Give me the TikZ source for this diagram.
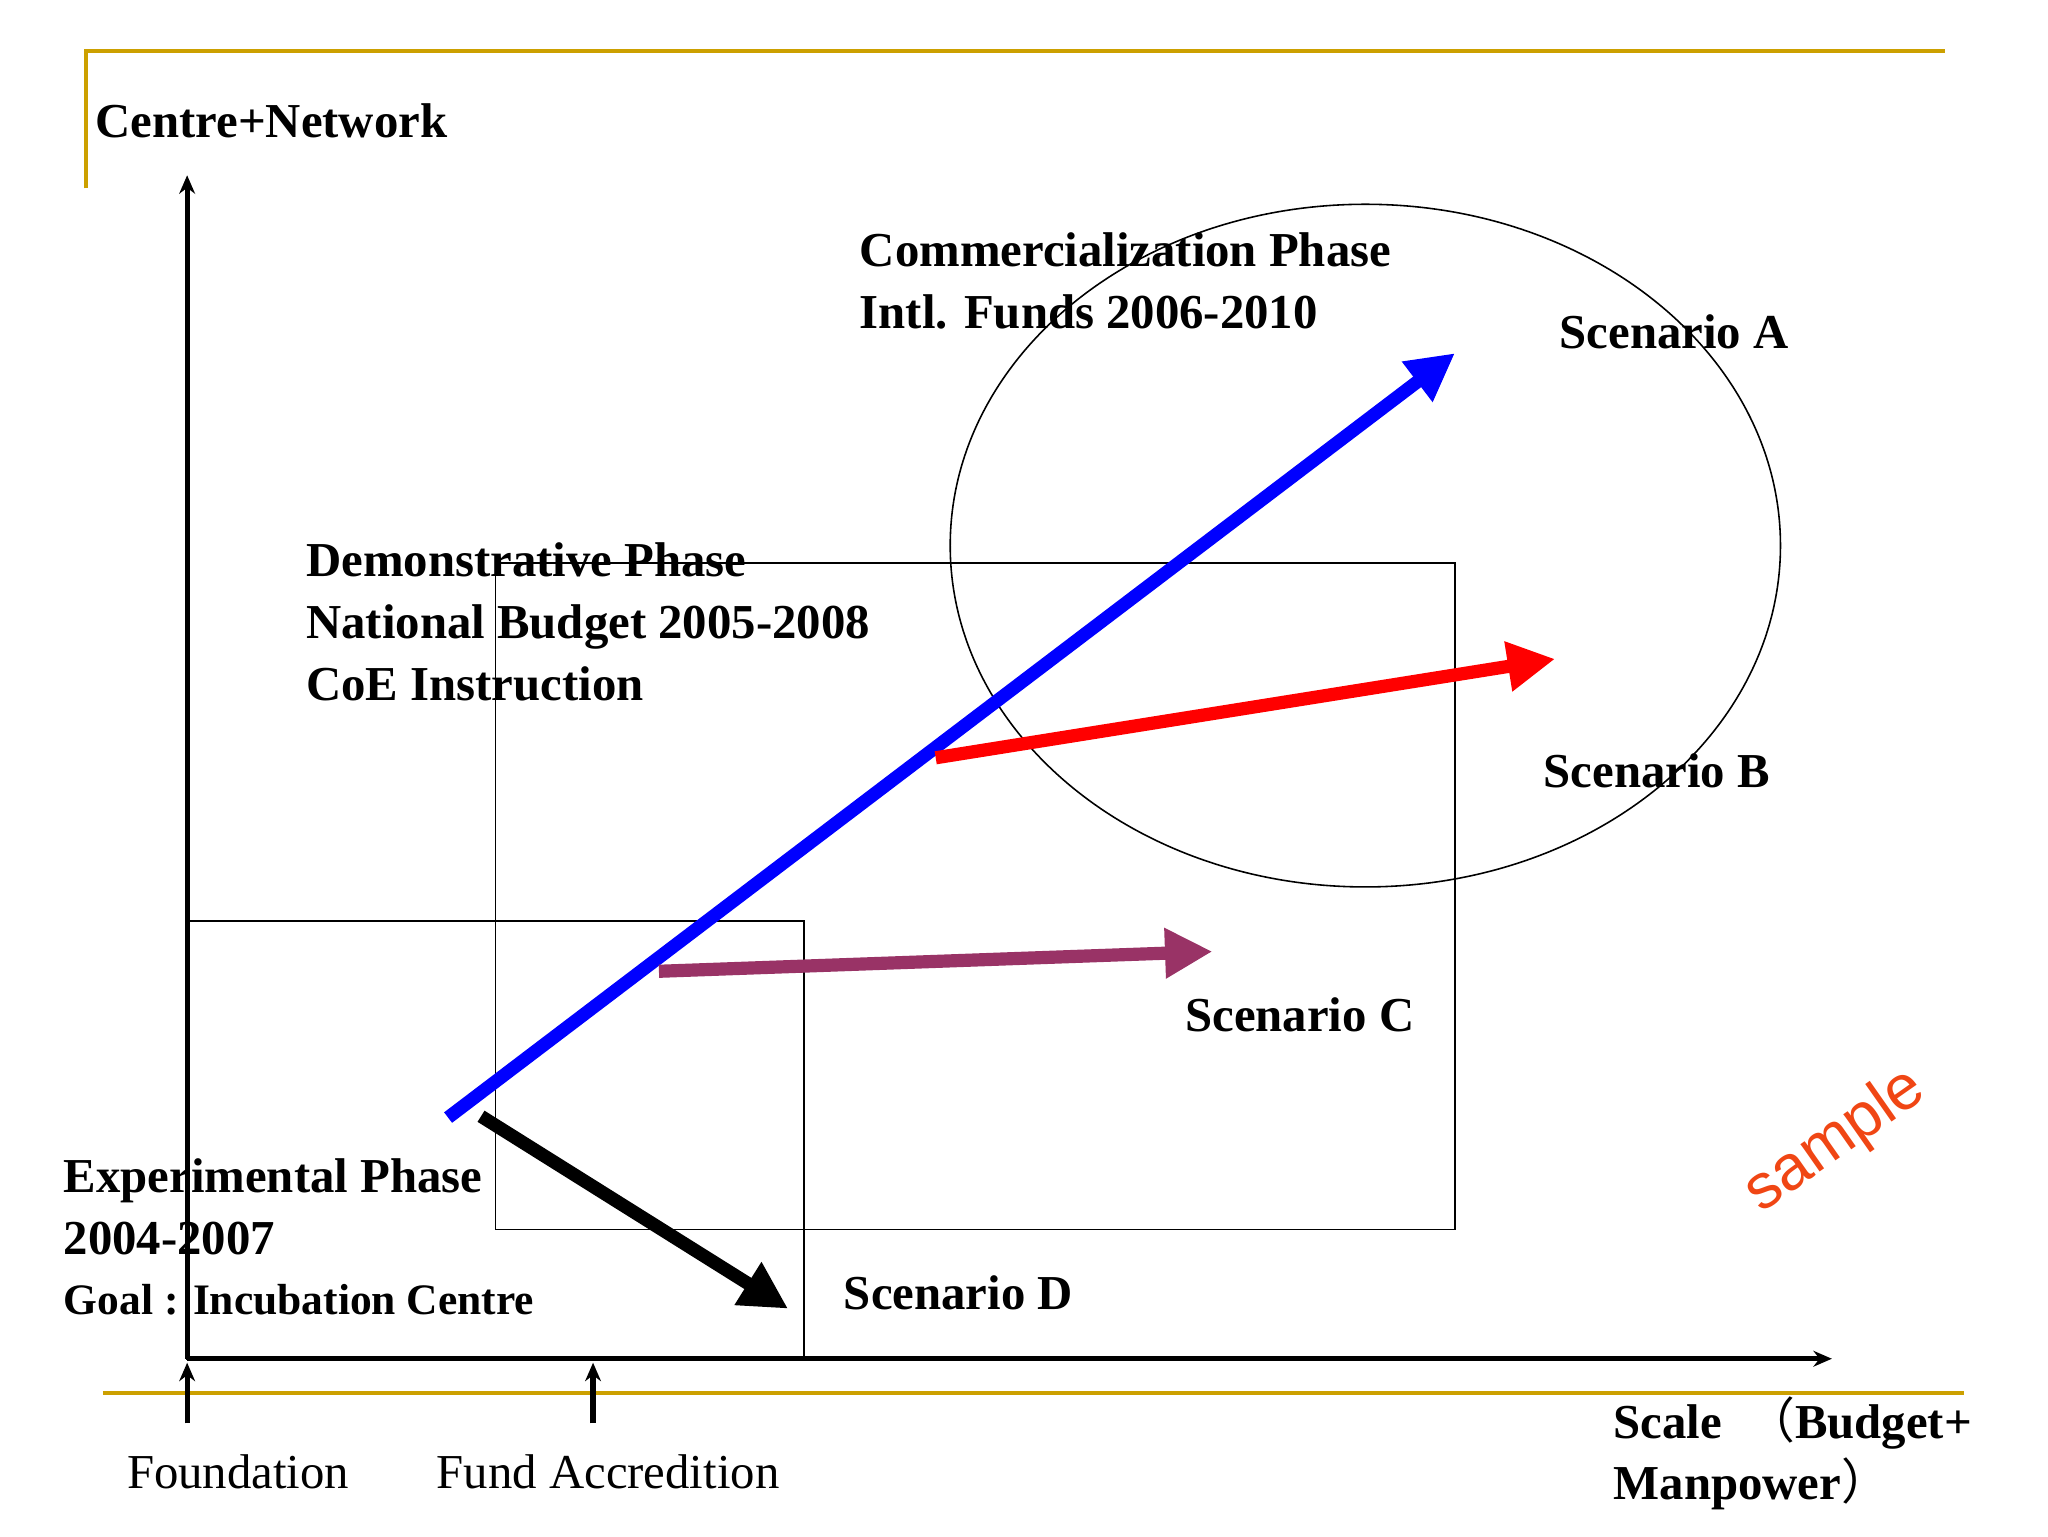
\documentclass[tikz,border=0pt]{standalone}
\usepackage{fontspec}
\setmainfont{Liberation Serif}
\setsansfont{Liberation Sans}
\newfontfamily\cjk{Noto Sans CJK SC}
\usetikzlibrary{arrows.meta}
\begin{document}
\begin{tikzpicture}[x=0.5pt,y=-0.5pt,
  gold/.style={draw={rgb,255:red,204;green,160;blue,0},line width=1.5pt},
  ax/.style={line width=2pt,-{Stealth[length=7pt,width=6pt]}},
  thin/.style={draw,line width=0.6pt},
  big/.style={-{Triangle[length=18pt,width=18pt]},line width=5pt},
  lbl/.style={font=\bfseries\fontsize{18.5}{23.5}\selectfont,anchor=west,align=left,inner sep=0pt},
  nl/.style={font=\fontsize{18.5}{22}\selectfont,anchor=west,inner sep=0pt}]
\useasboundingbox (0,0) rectangle (1554,1166);
\draw[gold] (65,143) -- (65,39) -- (1476,39);
\draw[gold] (78,1057) -- (1490,1057);
\coordinate (o) at (142,1031);
\coordinate (yt) at (142,133);
\coordinate (xt) at (1390,1031);
\draw[ax] (o) -- (yt);
\draw[ax] (o) -- (xt);
\coordinate (f0) at (142,1080); \coordinate (f1) at (142,1034);
\coordinate (a0) at (450,1080); \coordinate (a1) at (450,1034);
\draw[ax] (f0) -- (f1);
\draw[ax] (a0) -- (a1);
\draw[thin] (142,699) rectangle (610,1031);
\draw[thin] (376,427) rectangle (1104,933);
\draw[thin] (1036,414) ellipse [x radius=315, y radius=259];
\coordinate (b0) at (340,848); \coordinate (b1) at (1104,268);
\coordinate (r0) at (710,575); \coordinate (r1) at (1180,500);
\coordinate (p0) at (500,737); \coordinate (p1) at (920,722);
\coordinate (k0) at (365,847); \coordinate (k1) at (598,993);
\draw[big,blue] (b0) -- (b1);
\draw[big,red] (r0) -- (r1);
\draw[big,color={rgb,255:red,153;green,51;blue,102}] (p0) -- (p1);
\draw[big,black] (k0) -- (k1);
\node[lbl] (cn) at (72,92) {Centre+Network};
\node[lbl] (cp) at (652,213) {Commercialization Phase\\Intl. Funds 2006-2010};
\node[lbl] (sa) at (1183,252) {Scenario A};
\node[lbl] (dp) at (232,472) {Demonstrative Phase\\National Budget 2005-2008\\CoE Instruction};
\node[lbl] (sb) at (1171,585) {Scenario B};
\node[lbl] (sc) at (899,770) {Scenario C};
\node[lbl] (ep) at (48,916) {Experimental Phase\\2004-2007};
\node[lbl,font=\bfseries\fontsize{16.5}{19}\selectfont] (gl) at (48,986) {Goal : Incubation Centre};
\node[lbl] (sd) at (640,981) {Scenario D};
\node[lbl] (sc1) at (1224,1080) {Scale \ {\cjk\mdseries （}Budget+};
\node[lbl] (sc2) at (1224,1126) {Manpower{\cjk\mdseries ）}};
\node[nl] (fo) at (96,1117) {Foundation};
\node[nl] (fa) at (331,1117) {Fund Accredition};
\node[font=\sffamily\fontsize{24}{28}\selectfont,text={rgb,255:red,240;green,70;blue,20},rotate=35] (sm) at (1393,866) {sample};
\end{tikzpicture}
\end{document}
